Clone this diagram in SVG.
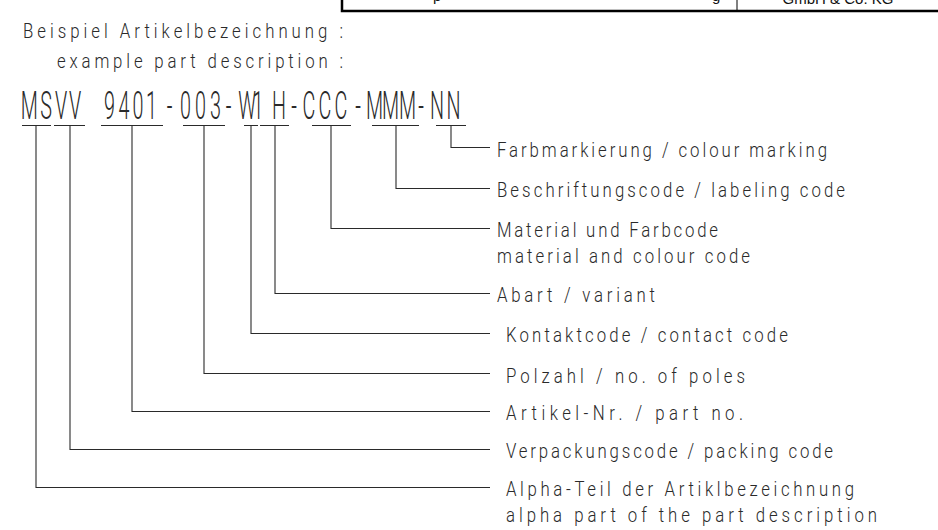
<svg xmlns="http://www.w3.org/2000/svg" width="938" height="530" viewBox="0 0 938 530">
<style>
  .lbl { font-family: Roboto, "Liberation Sans", Arial, sans-serif; font-weight: 300; font-size: 21px; fill: #2a2a2a; }
  .code { font-family: Roboto, "Liberation Sans", Arial, sans-serif; font-weight: 300; font-size: 39.5px; fill: #2a2a2a; }
  .tbl { font-family: "Liberation Sans", Arial, sans-serif; font-size: 15px; fill: #111; }
  .conn { fill: none; stroke: #2a2a2a; stroke-width: 1.1; }
</style>
<rect width="938" height="530" fill="#fff"/>

<g id="title-block">
  <path d="M342,0 V11 H938" fill="none" stroke="#000" stroke-width="2.5"/>
  <line x1="737" y1="0" x2="737" y2="11" stroke="#000" stroke-width="1"/>
  <text class="tbl" x="433" y="1">p</text>
  <text class="tbl" x="712" y="1">g</text>
  <text class="tbl" x="838" y="4" text-anchor="middle">GmbH &amp; Co. KG</text>
</g>

<g id="header" transform="scale(0.8,1)">
  <text class="lbl" x="28.75" y="38" textLength="400" lengthAdjust="spacing">Beispiel Artikelbezeichnung :</text>
  <text class="lbl" x="71.25" y="68" textLength="357.5" lengthAdjust="spacing">example part description :</text>
</g>

<g id="part-code">
  <text class="code" transform="scale(0.5,1)" y="119" text-anchor="middle"
    x="58.6 92 122 150 180 219 248 276 303 339 371 401 431 457 494 516 558 588 618 650 682 716 749 781 815 842 874 907">MSVV 9401-003-W1H-CCC-MMM-NN</text>
</g>

<g id="connectors" class="conn">
  <path d="M436,125.5 H466 M451,125.5 V147.5 H490"/>
  <path d="M372,125.5 H419 M396,125.5 V188.5 H490"/>
  <path d="M312,125.5 H351 M331,125.5 V228.5 H490"/>
  <path d="M260,125.5 H289 M275,125.5 V293.5 H490"/>
  <path d="M244,125.5 H258 M251,125.5 V333.5 H490"/>
  <path d="M183,125.5 H225 M204,125.5 V373.5 H490"/>
  <path d="M101,125.5 H163 M132,125.5 V411.5 H490"/>
  <path d="M54,125.5 H85 M70,125.5 V449.5 H490"/>
  <path d="M22,125.5 H51 M36,125.5 V487.5 H490"/>
</g>

<g id="label-colour-marking" transform="scale(0.8,1)">
  <text class="lbl" x="621.25" y="157" textLength="412.5" lengthAdjust="spacing">Farbmarkierung / colour marking</text>
</g>
<g id="label-labeling-code" transform="scale(0.8,1)">
  <text class="lbl" x="621.25" y="197" textLength="435" lengthAdjust="spacing">Beschriftungscode / labeling code</text>
</g>
<g id="label-material" transform="scale(0.8,1)">
  <text class="lbl" x="621.25" y="237" textLength="276.25" lengthAdjust="spacing">Material und Farbcode</text>
  <text class="lbl" x="621.25" y="263" textLength="316.25" lengthAdjust="spacing">material and colour code</text>
</g>
<g id="label-variant" transform="scale(0.8,1)">
  <text class="lbl" x="621.25" y="302" textLength="197.5" lengthAdjust="spacing">Abart / variant</text>
</g>
<g id="label-contact-code" transform="scale(0.8,1)">
  <text class="lbl" x="632.5" y="342" textLength="352.5" lengthAdjust="spacing">Kontaktcode / contact code</text>
</g>
<g id="label-poles" transform="scale(0.8,1)">
  <text class="lbl" x="632.5" y="383" textLength="298.75" lengthAdjust="spacing">Polzahl / no. of poles</text>
</g>
<g id="label-part-no" transform="scale(0.8,1)">
  <text class="lbl" x="632.5" y="420" textLength="296.25" lengthAdjust="spacing">Artikel-Nr. / part no.</text>
</g>
<g id="label-packing-code" transform="scale(0.8,1)">
  <text class="lbl" x="632.5" y="458" textLength="408.75" lengthAdjust="spacing">Verpackungscode / packing code</text>
</g>
<g id="label-alpha" transform="scale(0.8,1)">
  <text class="lbl" x="632.5" y="496" textLength="435" lengthAdjust="spacing">Alpha-Teil der Artiklbezeichnung</text>
  <text class="lbl" x="632.5" y="522" textLength="463.75" lengthAdjust="spacing">alpha part of the part description</text>
</g>
</svg>
